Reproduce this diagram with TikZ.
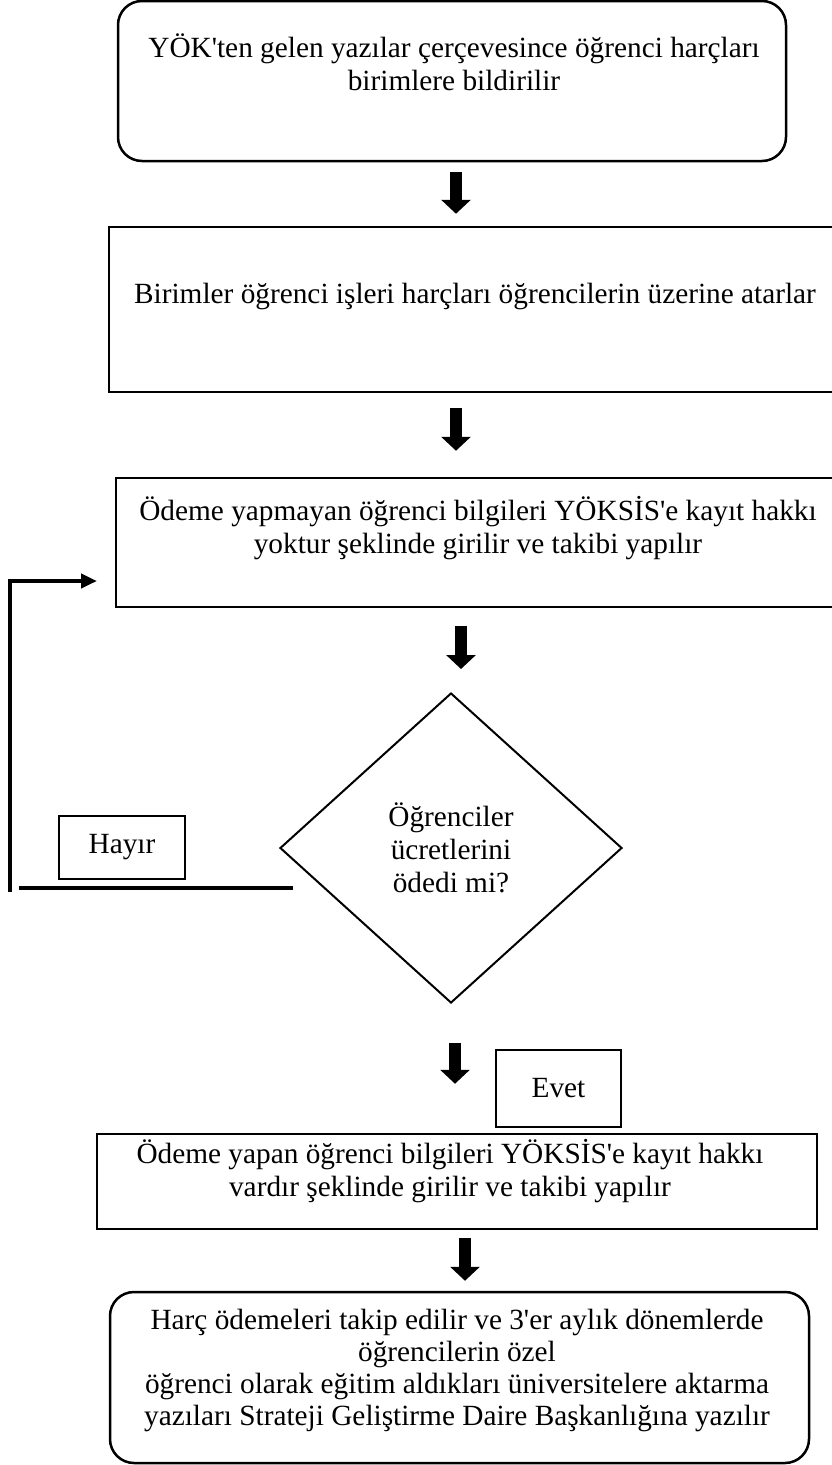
\documentclass[tikz,border=0pt]{standalone}
\usepackage{fontspec}
\setmainfont{Liberation Serif}[Ligatures=TeXOff]
\usetikzlibrary{shapes.geometric,arrows.meta,calc}
\begin{document}
\begin{tikzpicture}[x=1pt,y=-1pt,
  every node/.style={font=\fontsize{29.3}{33}\selectfont},
  box/.style={draw, line width=2.5pt, rectangle, inner sep=0pt},
  roundbox/.style={box, rounded corners=24pt},
  txt/.style={align=center, inner sep=0pt, anchor=base},
  labelbox/.style={draw, line width=2pt, rectangle, inner sep=0pt},
  decision/.style={draw, line width=2pt, diamond, inner sep=0pt, align=center},
  blockarrow/.style={line width=12pt, -{Triangle[width=29pt,length=14pt]}},
  conn/.style={line width=4pt},
]
\useasboundingbox (0,0) rectangle (832,1465);
\clip (0,0) rectangle (832,1465);

% boxes
\node[roundbox, minimum width=668pt, minimum height=160pt] (b1) at (452,81) {};
\node[box, minimum width=736pt, minimum height=165pt] (b2) at (477,309.5) {};
\node[box, minimum width=729pt, minimum height=129pt] (b3) at (480.5,542.5) {};
\node[decision, minimum width=342pt, minimum height=310pt] (d) at (451,848) {Öğrenciler\\ücretlerini\\ödedi mi?};
\node[labelbox, minimum width=126pt, minimum height=63pt] (hayir) at (122,847.5) {Hayır};
\node[labelbox, minimum width=125pt, minimum height=77pt] (evet) at (558.5,1088.5) {Evet};
\node[box, minimum width=720pt, minimum height=95pt] (b4) at (457,1181.5) {};
\node[roundbox, minimum width=699pt, minimum height=171pt] (b5) at (459.5,1377.5) {};

% texts (base anchor = baseline of the last line)
\node[txt] (t1) at (454,90) {YÖK'ten gelen yazılar çerçevesince öğrenci harçları\\birimlere bildirilir};
\node[txt] (t2) at (475,303) {Birimler öğrenci işleri harçları öğrencilerin üzerine atarlar};
\node[txt] (t3) at (478,553) {Ödeme yapmayan öğrenci bilgileri YÖKSİS'e kayıt hakkı\\yoktur şeklinde girilir ve takibi yapılır};
\node[txt] (t4) at (450,1196) {Ödeme yapan öğrenci bilgileri YÖKSİS'e kayıt hakkı\\vardır şeklinde girilir ve takibi yapılır};
\node[txt, font=\fontsize{29.3}{32}\selectfont] (t5) at (457,1425) {Harç ödemeleri takip edilir ve 3'er aylık dönemlerde\\öğrencilerin özel\\öğrenci olarak eğitim aldıkları üniversitelere aktarma\\yazıları Strateji Geliştirme Daire Başkanlığına yazılır};

% block arrows
\draw[blockarrow, shorten <=10pt, shorten >=12pt] ([xshift=4pt]b1.south) -- ([xshift=4pt]b1.south |- b2.north);
\draw[blockarrow, shorten <=15pt, shorten >=26pt] ([xshift=-21pt]b2.south) -- ([xshift=-21pt]b2.south |- b3.north);
\draw[blockarrow, shorten <=18pt, shorten >=23pt] ([xshift=-19.5pt]b3.south) -- ([xshift=-19.5pt]b3.south |- d.north);
\draw[blockarrow, shorten <=39pt, shorten >=49pt] ([xshift=4pt]d.south) -- ([xshift=4pt]d.south |- b4.north);
\draw[blockarrow, shorten <=8pt, shorten >=10pt] ([xshift=8pt]b4.south) -- ([xshift=8pt]b4.south |- b5.north);

% feedback loop (Hayır)
\coordinate (hs) at (293,888);
\coordinate (he) at (19,888);
\coordinate (vb) at (10,892);
\coordinate (fe) at (97,581);
\draw[conn] (hs) -- (he);
\draw[conn, -{Triangle[width=14pt,length=16pt]}] (vb) |- (fe);
\end{tikzpicture}
\end{document}
